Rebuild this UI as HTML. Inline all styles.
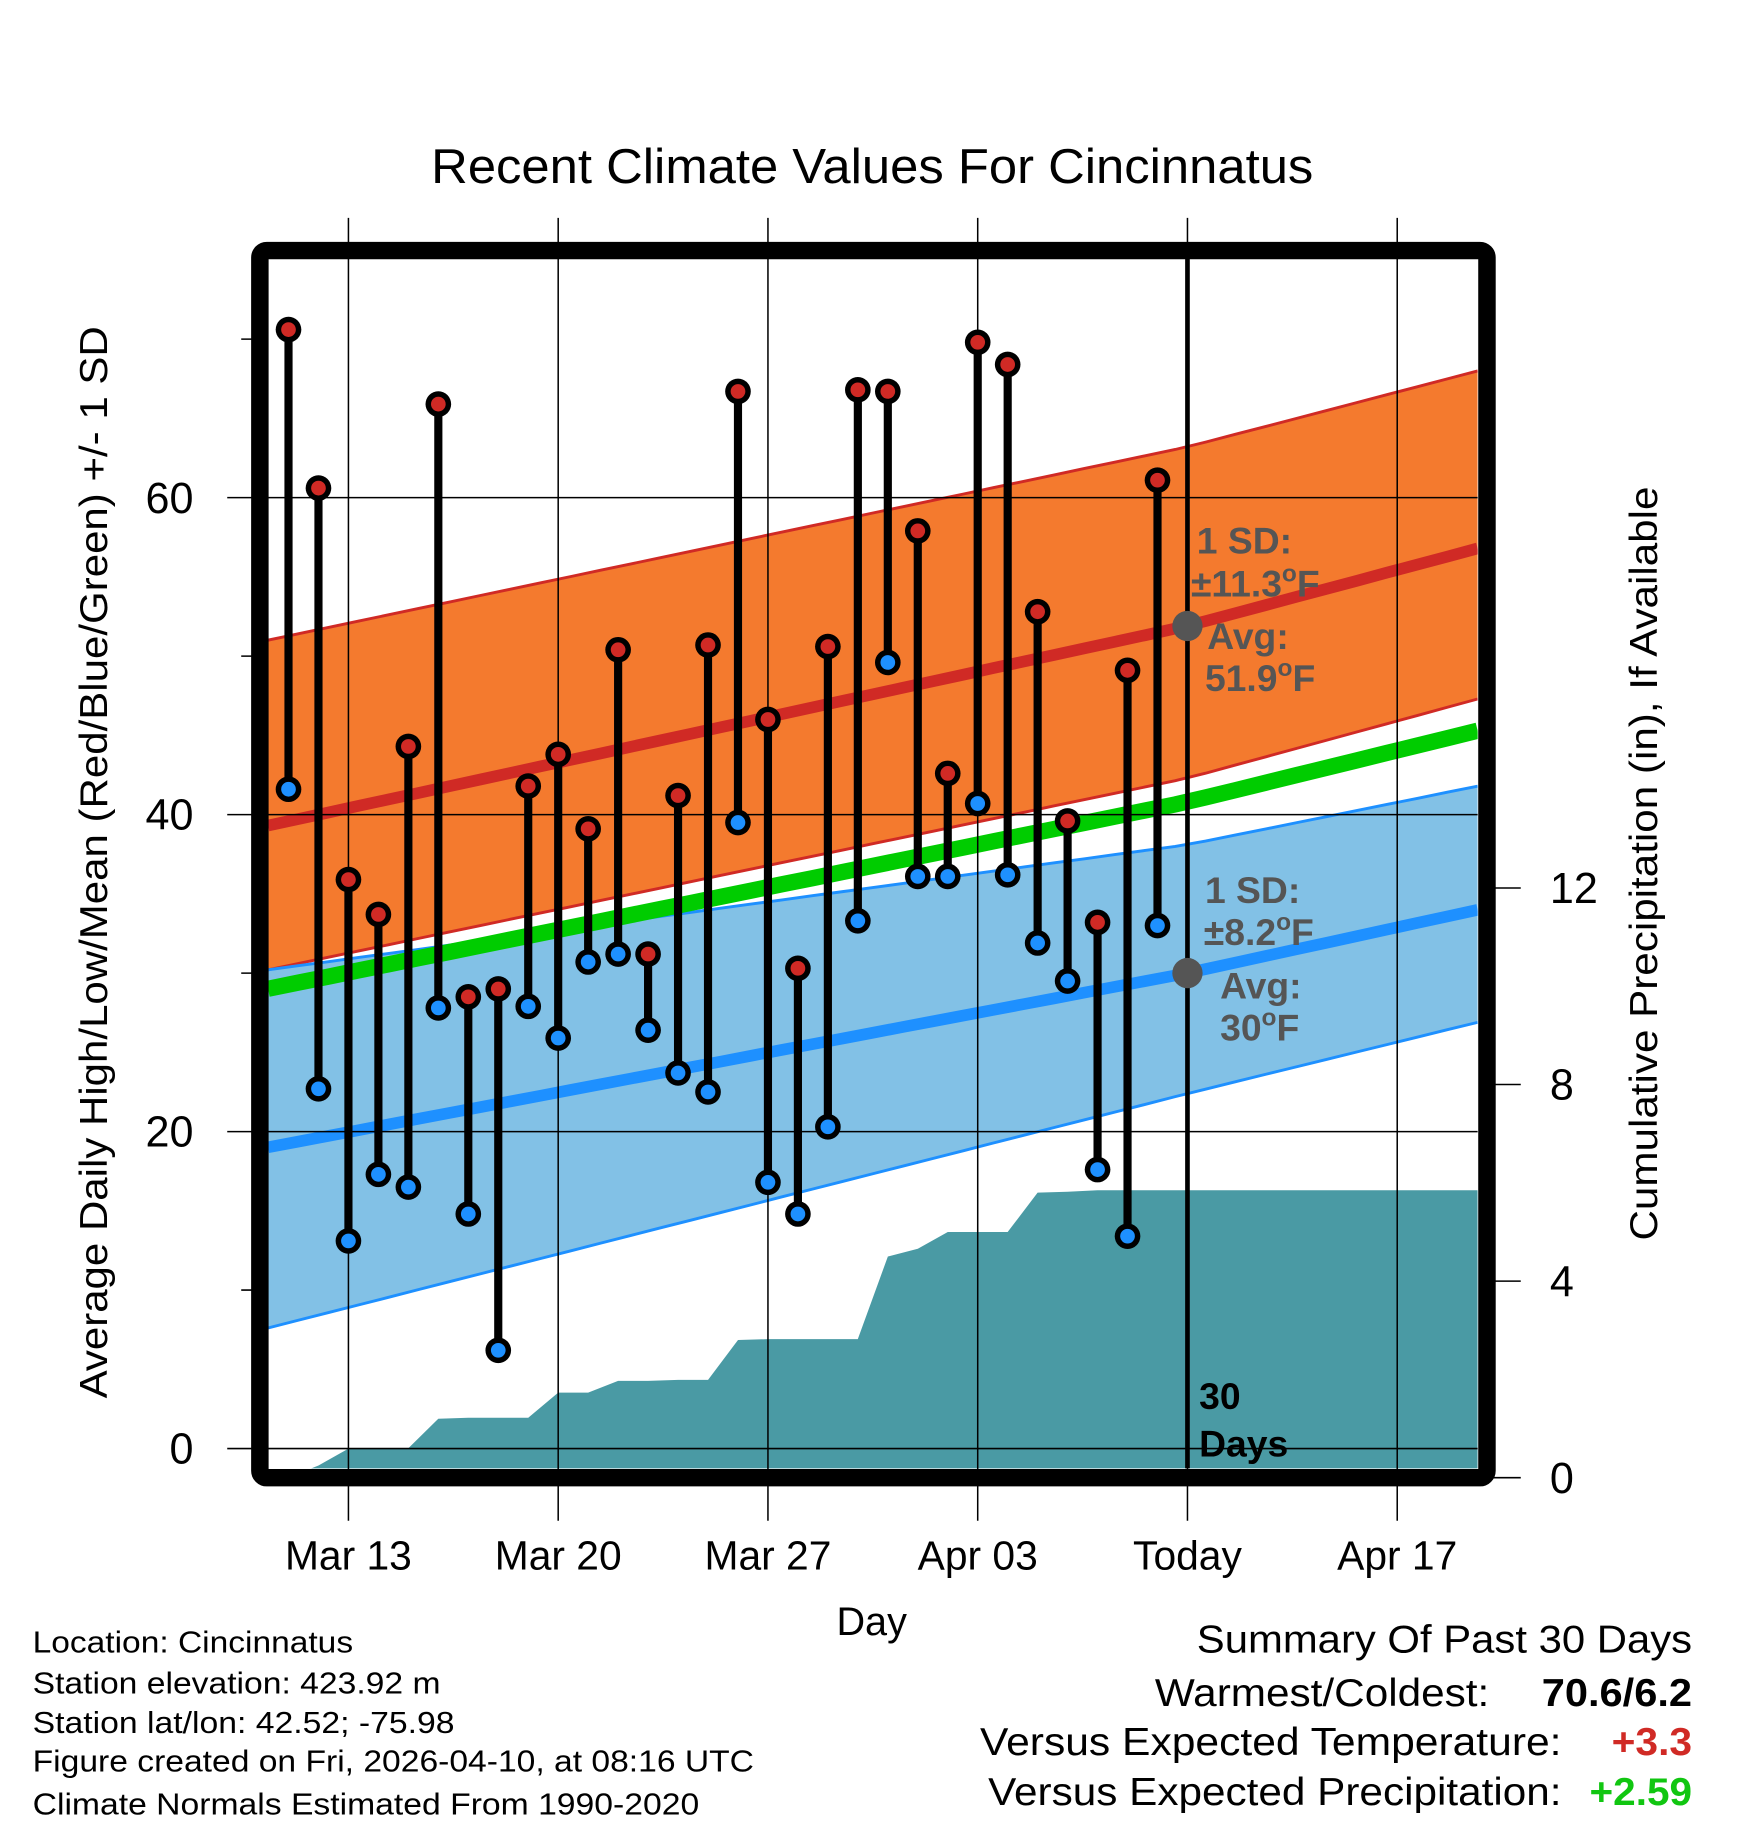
<!DOCTYPE html>
<html><head><meta charset="utf-8">
<style>
html,body{margin:0;padding:0;background:#fff;}
svg{display:block;font-family:"Liberation Sans",Arial,sans-serif;}
</style></head>
<body>
<svg id="chart" xmlns="http://www.w3.org/2000/svg" width="1748" height="1828" viewBox="0 0 1500 1568.6" preserveAspectRatio="none">
<g id="layer"></g>
</svg>
<script>
// ---- data ----
const dayLabels = ["Mar 11","Mar 12","Mar 13","Mar 14","Mar 15","Mar 16","Mar 17","Mar 18","Mar 19","Mar 20","Mar 21","Mar 22","Mar 23","Mar 24","Mar 25","Mar 26","Mar 27","Mar 28","Mar 29","Mar 30","Mar 31","Apr 01","Apr 02","Apr 03","Apr 04","Apr 05","Apr 06","Apr 07","Apr 08","Apr 09"];
const dayOffsets = [-2,-1,0,1,2,3,4,5,6,7,8,9,10,11,12,13,14,15,16,17,18,19,20,21,22,23,24,25,26,27];
const highs = [70.6,60.6,35.9,33.7,44.3,65.9,28.5,29.0,41.8,43.8,39.1,50.4,31.2,41.2,50.7,66.7,46.0,30.3,50.6,66.8,66.7,57.9,42.6,69.8,68.4,52.8,39.6,33.2,49.1,61.1];
const lows = [41.6,22.7,13.1,17.3,16.5,27.8,14.8,6.2,27.9,25.9,30.7,31.2,26.4,23.7,22.5,39.5,16.8,14.8,20.3,33.3,49.6,36.1,36.1,40.7,36.2,31.9,29.5,17.6,13.4,33.0];
const precipCum = [0.0,0.25,0.59,0.60,0.60,1.20,1.22,1.22,1.22,1.73,1.73,1.97,1.97,1.99,1.99,2.80,2.82,2.82,2.82,2.82,4.50,4.66,5.00,5.00,5.00,5.80,5.82,5.85,5.85,5.85];
const normDays = [-2.7, 28, 37.7];
const highMean = [39.3, 51.9, 56.8];
const highUpper = [51.0, 63.2, 68.0];
const highLower = [30.2, 42.3, 47.3];
const meanLine = [29.0, 40.8, 45.3];
const lowMean = [19.0, 30.0, 34.0];
const lowUpper = [30.2, 38.1, 41.8];
const lowLower = [7.6, 22.4, 26.9];
const xTickDays = [0,7,14,21,28,35];
const xTickLabels = ["Mar 13","Mar 20","Mar 27","Apr 03","Today","Apr 17"];
const yTicks = [0,20,40,60];
const yMinor = [10,30,50,70];
const pTicks = [0,4,8,12];

// ---- scales (display units) ----
const PL=230, PR=1268, PT=222, PB=1260;
function X(d){return 299 + d*25.714;}
function Y(t){return 1243 - t*13.6;}
function P(p){return 1268 - p*42.17;}
function interp(arr, d){
  for(let i=0;i<normDays.length-1;i++){
    if(d<=normDays[i+1]||i===normDays.length-2){
      const t=(d-normDays[i])/(normDays[i+1]-normDays[i]);
      return arr[i]+(arr[i+1]-arr[i])*t;
    }
  }
}
const NS="http://www.w3.org/2000/svg";
const layer=document.getElementById('layer');
function mk(tag, attrs, parent){
  const e=document.createElementNS(NS,tag);
  for(const k in attrs) e.setAttribute(k,attrs[k]);
  (parent||layer).appendChild(e);
  return e;
}
const dStart=(PL-299)/25.714, dEnd=(PR-299)/25.714;
function curvePts(arr){
  const pts=[];
  for(let i=0;i<=40;i++){const d=dStart+(dEnd-dStart)*i/40; pts.push([X(d),Y(interp(arr,d))]);}
  return pts;
}
function polyStr(p){return p.map(q=>q[0].toFixed(1)+','+q[1].toFixed(1)).join(' ');}
const clip=mk('clipPath',{id:'plotclip'});
mk('rect',{x:PL,y:PT,width:PR-PL,height:PB-PT},clip);
const g=mk('g',{'clip-path':'url(#plotclip)'});

// bands
let hb=mk('polygon',{points:polyStr(curvePts(highUpper).concat(curvePts(highLower).reverse())),fill:'#f47a2e'},g);


let lb=mk('polygon',{points:polyStr(curvePts(lowUpper).concat(curvePts(lowLower).reverse())),fill:'#82c1e6'},g);


function line(arr,color,w,name){
  const e=mk('polyline',{points:polyStr(curvePts(arr)),fill:'none',stroke:color,'stroke-width':w},g);
  
  
}
line(highUpper,'#d02a25',2.5,'high-upper-line');
line(highLower,'#d02a25',2.5,'high-lower-line');
line(lowUpper,'#1e90ff',2.5,'low-upper-line');
line(lowLower,'#1e90ff',2.5,'low-lower-line');
line(highMean,'#d02a25',10,'normal-high-line');
line(lowMean,'#1e90ff',10,'normal-low-line');
line(meanLine,'#00cc00',14,'normal-mean-line');

// grid
for(const t of yTicks){
  const e=mk('line',{x1:195,x2:PR,y1:Y(t),y2:Y(t),stroke:'#000','stroke-width':1.3});
  
  
}
for(const t of yMinor){
  const e=mk('line',{x1:207,x2:PL,y1:Y(t),y2:Y(t),stroke:'#000','stroke-width':1.3});
  
  
}
xTickDays.forEach((d,i)=>{
  const e=mk('line',{x1:X(d),x2:X(d),y1:187,y2:1305,stroke:'#000','stroke-width':1.3});
  
  
});

// precip area
{
  const pts=[[PL,PB+20],[PL,P(precipCum[0])]];
  dayOffsets.forEach((d,i)=>pts.push([X(d),P(precipCum[i])]));
  pts.push([PR,P(precipCum[precipCum.length-1])]);
  pts.push([PR,PB+20]);
  const e=mk('polygon',{points:polyStr(pts),fill:'#4a9aa4'},g);
  
  
}

// today line
{
  const e=mk('line',{x1:X(28),x2:X(28),y1:PT,y2:PB,stroke:'#000','stroke-width':4});
  
  
}

// stems and markers
dayOffsets.forEach((d,i)=>{
  const x=X(d);
  const s=mk('line',{x1:x,x2:x,y1:Y(highs[i]),y2:Y(lows[i]),stroke:'#000','stroke-width':7});
  
  
});
dayOffsets.forEach((d,i)=>{
  const x=X(d);
  [[highs[i],'#d02a25','high'],[lows[i],'#1e90ff','low']].forEach(([v,c,n])=>{
    const o=mk('circle',{cx:x,cy:Y(v),r:11,fill:'#000'});
    
    
    const inn=mk('circle',{cx:x,cy:Y(v),r:6.3,fill:c});
    
    
  });
});

// avg dots
{
  const a=mk('circle',{cx:X(28),cy:Y(highMean[1]),r:13,fill:'#555'});
  
  
  const b=mk('circle',{cx:X(28),cy:Y(lowMean[1]),r:13,fill:'#555'});
  
  
}

// x tick labels
xTickDays.forEach((d,i)=>{
  const t=mk('text',{x:X(d),y:1347,'text-anchor':'middle','font-size':35,fill:'#000'});
  t.textContent=xTickLabels[i];
  
  
});
yTicks.forEach(v=>{
  const t=mk('text',{x:166,y:Y(v)+13,'text-anchor':'end','font-size':37,fill:'#000'});
  t.textContent=String(v);
  
  
});
pTicks.forEach(v=>{
  const l=mk('line',{x1:1276,x2:1305,y1:P(v),y2:P(v),stroke:'#000','stroke-width':1.3});
  
  
  const t=mk('text',{x:1330,y:P(v)+13,'font-size':37,fill:'#000'});
  t.textContent=String(v);
  
  
});

// frame
{
  const f=mk('rect',{x:223,y:215,width:1053,height:1053,rx:6,fill:'none',stroke:'#000','stroke-width':15});
  
  
}
</script>
<script>
// static text
(function(){
const NS="http://www.w3.org/2000/svg";
const svg=document.getElementById('chart');
const html=`
<text x="370" y="157" font-size="42" textLength="757" lengthAdjust="spacingAndGlyphs">Recent Climate Values For Cincinnatus</text>
<text transform="translate(92,740) rotate(-90)" text-anchor="middle" font-size="33" textLength="920" lengthAdjust="spacingAndGlyphs">Average Daily High/Low/Mean (Red/Blue/Green) +/- 1 SD</text>
<text transform="translate(1422,741) rotate(-90)" text-anchor="middle" font-size="33" textLength="647" lengthAdjust="spacingAndGlyphs">Cumulative Precipitation (in), If Available</text>
<text x="748" y="1403" text-anchor="middle" font-size="34">Day</text>
<g font-weight="bold" font-size="32" fill="#555">
<text x="1027" y="475">1 SD:</text>
<text x="1022" y="512">±11.3<tspan font-size="21" dy="-13">o</tspan><tspan dy="13">F</tspan></text>
<text x="1036" y="557">Avg:</text>
<text x="1034" y="593">51.9<tspan font-size="21" dy="-13">o</tspan><tspan dy="13">F</tspan></text>
</g>
<g font-weight="bold" font-size="32" fill="#555">
<text x="1034" y="775">1 SD:</text>
<text x="1033" y="811">±8.2<tspan font-size="21" dy="-13">o</tspan><tspan dy="13">F</tspan></text>
<text x="1047" y="857">Avg:</text>
<text x="1047" y="893">30<tspan font-size="21" dy="-13">o</tspan><tspan dy="13">F</tspan></text>
</g>
<g font-weight="bold" font-size="32" fill="#000">
<text x="1029" y="1209">30</text>
<text x="1029" y="1250">Days</text>
</g>
<g font-size="26" fill="#000">
<text x="28" y="1418" textLength="275" lengthAdjust="spacingAndGlyphs">Location: Cincinnatus</text>
<text x="28" y="1453" textLength="350" lengthAdjust="spacingAndGlyphs">Station elevation: 423.92 m</text>
<text x="28" y="1487" textLength="362" lengthAdjust="spacingAndGlyphs">Station lat/lon: 42.52; -75.98</text>
<text x="28" y="1520" textLength="619" lengthAdjust="spacingAndGlyphs">Figure created on Fri, 2026-04-10, at 08:16 UTC</text>
<text x="28" y="1557" textLength="572" lengthAdjust="spacingAndGlyphs">Climate Normals Estimated From 1990-2020</text>
</g>
<g font-size="33" fill="#000">
<text x="1027" y="1418" textLength="425" lengthAdjust="spacingAndGlyphs">Summary Of Past 30 Days</text>
<text x="991" y="1464" textLength="287" lengthAdjust="spacingAndGlyphs">Warmest/Coldest:</text>
<text x="1323" y="1464" font-weight="bold" textLength="129" lengthAdjust="spacingAndGlyphs">70.6/6.2</text>
<text x="841" y="1506" textLength="499" lengthAdjust="spacingAndGlyphs">Versus Expected Temperature:</text>
<text x="1383" y="1506" font-weight="bold" fill="#d02a25" textLength="69" lengthAdjust="spacingAndGlyphs">+3.3</text>
<text x="848" y="1549" textLength="492" lengthAdjust="spacingAndGlyphs">Versus Expected Precipitation:</text>
<text x="1364" y="1549" font-weight="bold" fill="#11c611" textLength="88" lengthAdjust="spacingAndGlyphs">+2.59</text>
</g>`;
const tmp=document.createElementNS(NS,'g');
tmp.innerHTML=html;
svg.appendChild(tmp);
})();
</script>
</body></html>
